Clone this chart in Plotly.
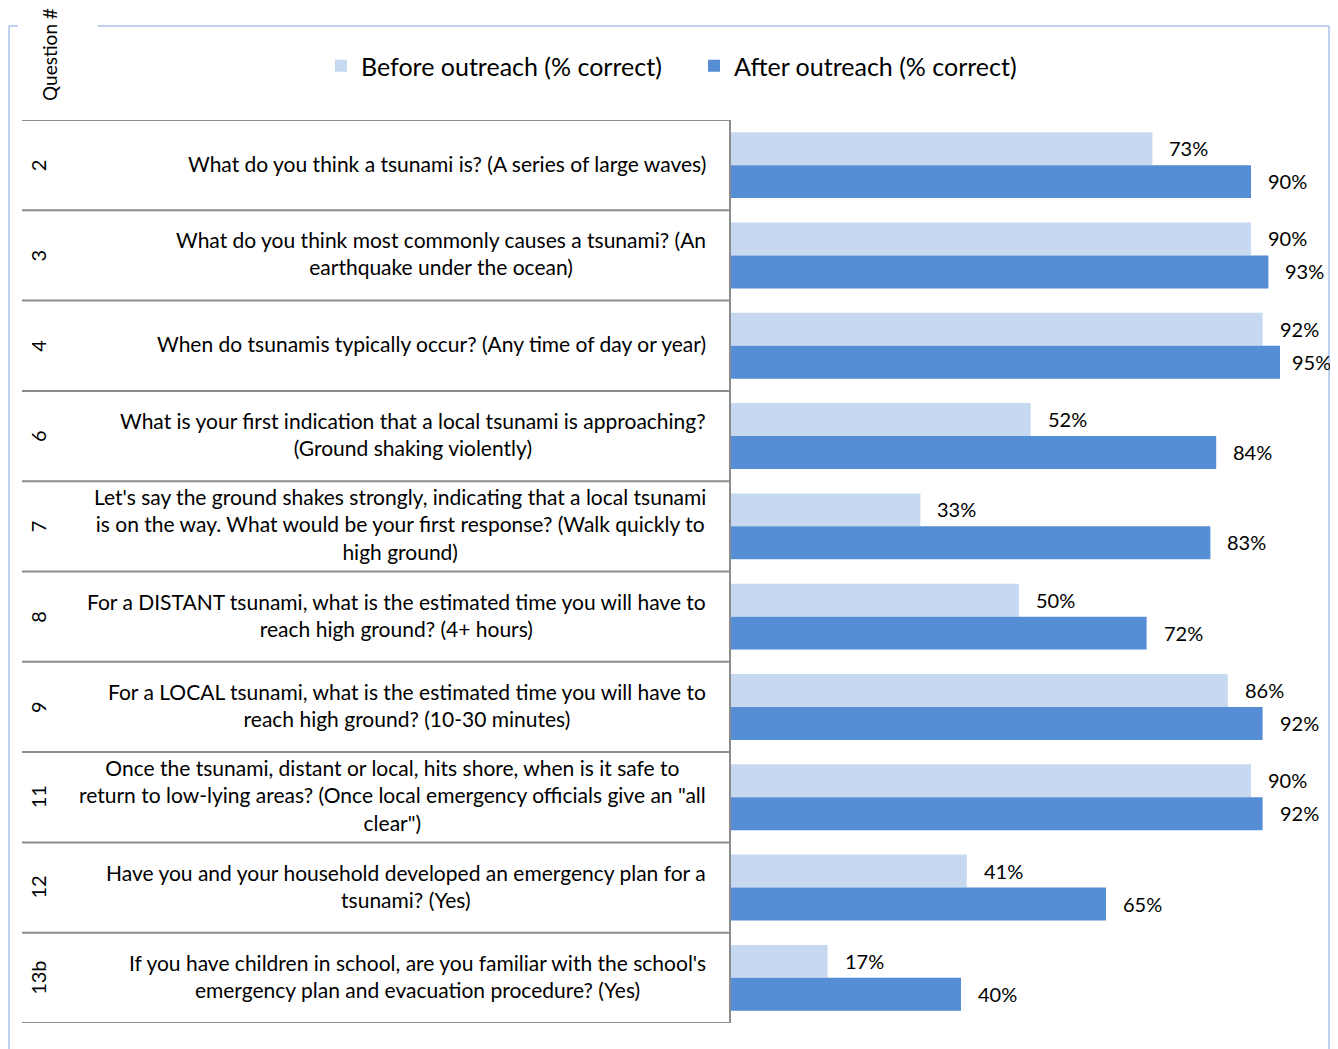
import plotly.graph_objects as go

# Page has an 8px body margin; the figure is sized/offset to compensate.
OFF = 8
W, H = 1338 - OFF, 1049 - OFF

question_ids = ["2", "3", "4", "6", "7", "8", "9", "11", "12", "13b"]
question_texts = [
    "What do you think a tsunami is? (A series of large waves)",
    "What do you think most commonly causes a tsunami? (An<br>earthquake under the ocean)",
    "When do tsunamis typically occur? (Any time of day or year)",
    "What is your first indication that a local tsunami is approaching?<br>(Ground shaking violently)",
    "Let's say the ground shakes strongly, indicating that a local tsunami<br>is on the way. What would be your first response? (Walk quickly to<br>high ground)",
    "For a DISTANT tsunami, what is the estimated time you will have to<br>reach high ground? (4+ hours)",
    "For a LOCAL tsunami, what is the estimated time you will have to<br>reach high ground? (10-30 minutes)",
    "Once the tsunami, distant or local, hits shore, when is it safe to<br>return to low-lying areas? (Once local emergency officials give an \"all<br>clear\")",
    "Have you and your household developed an emergency plan for a<br>tsunami? (Yes)",
    "If you have children in school, are you familiar with the school's<br>emergency plan and evacuation procedure? (Yes)",
]
before_pct = [73, 90, 92, 52, 33, 50, 86, 90, 41, 17]
after_pct = [90, 93, 95, 84, 83, 72, 92, 92, 65, 40]

FONT = "Lato"
C_BEFORE = "#c6d9f1"
C_AFTER = "#558ed5"
LINE = "#8c8c8c"
FRAME = "#a8c1ea"


def px(x):
    return (x - OFF) / W


def py(y):
    return 1 - (y - OFF) / H


fig = go.Figure()
fig.add_trace(go.Bar(y=question_ids, x=before_pct, orientation="h", name="Before outreach (% correct)",
                     marker=dict(color=C_BEFORE, line=dict(width=0))))
fig.add_trace(go.Bar(y=question_ids, x=after_pct, orientation="h", name="After outreach (% correct)",
                     marker=dict(color=C_AFTER, line=dict(width=0))))


def label_shift(v):
    # labels near the right edge are nudged closer to the bar (as in the original)
    return 10 if v >= 95 else 15


annotations = []
for i, (q, txt) in enumerate(zip(question_ids, question_texts)):
    annotations.append(dict(x=px(708), xref="paper", y=i, yref="y", yshift=2, text=txt, showarrow=False,
                            xanchor="right", yanchor="middle", align="center",
                            font=dict(family=FONT, size=21, color="#000")))
    annotations.append(dict(x=px(38), xref="paper", y=i, yref="y", text=q, showarrow=False,
                            textangle=-90, xanchor="center", yanchor="middle",
                            font=dict(family=FONT, size=20, color="#000")))
for i, (b, a) in enumerate(zip(before_pct, after_pct)):
    annotations.append(dict(x=b, xref="x", y=i, yref="y", yshift=17, xshift=label_shift(b), text=f"{b}%",
                            showarrow=False, xanchor="left", yanchor="middle",
                            font=dict(family=FONT, size=20, color="#000")))
    annotations.append(dict(x=a, xref="x", y=i, yref="y", yshift=-16, xshift=label_shift(a), text=f"{a}%",
                            showarrow=False, xanchor="left", yanchor="middle",
                            font=dict(family=FONT, size=20, color="#000")))
annotations.append(dict(x=px(50), xref="paper", y=py(55), yref="paper", text="Question #", showarrow=False,
                        textangle=-90, xanchor="center", yanchor="middle",
                        font=dict(family=FONT, size=19, color="#000")))

shapes = []
n = len(question_ids)
for i in range(n + 1):
    shapes.append(dict(type="line", xref="paper", yref="y", x0=px(22), x1=px(730), y0=i - 0.5, y1=i - 0.5,
                       line=dict(color=LINE, width=2)))
shapes.append(dict(type="line", xref="paper", yref="y", x0=px(730), x1=px(730), y0=-0.5, y1=n - 0.5,
                   line=dict(color=LINE, width=2)))
# outer frame
RIGHT = 1329
shapes += [
    dict(type="line", xref="paper", yref="paper", x0=px(9), x1=px(9), y0=py(26), y1=0, line=dict(color=FRAME, width=1.5)),
    dict(type="line", xref="paper", yref="paper", x0=px(9), x1=px(18), y0=py(26), y1=py(26), line=dict(color=FRAME, width=1.5)),
    dict(type="line", xref="paper", yref="paper", x0=px(98), x1=px(RIGHT), y0=py(26), y1=py(26), line=dict(color=FRAME, width=1.5)),
    dict(type="line", xref="paper", yref="paper", x0=px(RIGHT), x1=px(RIGHT), y0=py(26), y1=0, line=dict(color=FRAME, width=1.5)),
]

fig.update_layout(
    width=W, height=H,
    margin=dict(l=0, r=0, t=0, b=0),
    paper_bgcolor="white", plot_bgcolor="white",
    barmode="group", bargap=0.27, bargroupgap=0,
    xaxis=dict(domain=[px(729), px(1309)], range=[0, 100], visible=False),
    yaxis=dict(domain=[py(1023), py(120)], type="category", range=[n - 0.5, -0.5], visible=False),
    legend=dict(orientation="h", x=px(694), xanchor="center", y=py(66), yanchor="middle",
                font=dict(family=FONT, size=25, color="#000"), bgcolor="rgba(0,0,0,0)", itemclick=False,
                entrywidth=328),
    annotations=annotations,
    shapes=shapes,
    showlegend=True,
)

fig.write_html("out.html")
